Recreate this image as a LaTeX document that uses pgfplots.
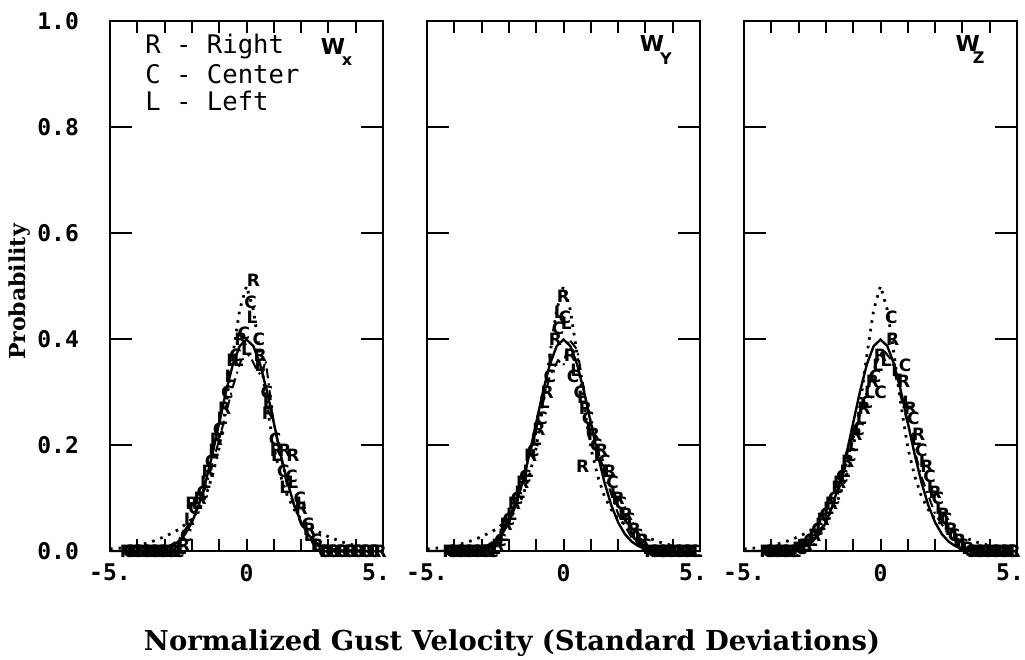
\documentclass[border=0pt]{standalone}
\usepackage{pgfplots}
\pgfplotsset{compat=1.18}
\usepackage{fontspec}
\setmainfont{DejaVu Serif}
\newfontfamily\monof{DejaVu Sans Mono}
\newfontfamily\sansf{DejaVu Sans}
\begin{document}
\begin{tikzpicture}
\useasboundingbox (-55pt,-54.5pt) rectangle (457.5pt,275.5pt);
\pgfplotsset{
  panel/.style={
    scale only axis, width=136.5pt, height=265pt,
    xmin=-5, xmax=5, ymin=0, ymax=1,
    axis line style={line width=1.4pt},
    tick align=inside,
    xtick={-5,...,5},
    xticklabels={-5.,{},{},{},{},0,{},{},{},{},{\hspace*{-7pt}5.}},
    ytick={0,0.2,0.4,0.6,0.8,1.0},
    xtick style={line width=1pt, black, /pgfplots/major tick length=6pt},
    ytick style={line width=1pt, black, /pgfplots/major tick length=11pt},
    extra x ticks={0}, extra x tick labels={},
    extra x tick style={major tick length=10pt},
    ticklabel style={font=\monof\bfseries\fontsize{11.5}{12}\selectfont},
    xticklabel style={yshift=-3pt},
    yticklabel style={xshift=-12pt},
    clip=false,
  },
  solidc/.style={black, line width=1.2pt},
  dotc/.style={black, line width=1.4pt, dash pattern=on 1.3pt off 3pt},
  ddc/.style={black, line width=1pt, dash pattern=on 5pt off 2.5pt on 1pt off 2.5pt},
  mk/.style={only marks, mark=text, text mark={#1}, text mark as node=true,
    text mark style={font=\sansf\bfseries\fontsize{8.5}{8.5}\selectfont, inner sep=0pt}},
}
% ---------- shared curves ----------
\def\gausscurve{(-5,0)(-4.5,0)(-4,0.0001)(-3.75,0.0004)(-3.5,0.0009)(-3.25,0.002)(-3,0.0044)(-2.75,0.0091)(-2.5,0.0175)(-2.25,0.0317)(-2,0.054)(-1.75,0.0863)(-1.5,0.1295)(-1.25,0.1826)(-1,0.242)(-0.75,0.3011)(-0.5,0.3521)(-0.25,0.3867)(0,0.3989)(0.25,0.3867)(0.5,0.3521)(0.75,0.3011)(1,0.242)(1.25,0.1826)(1.5,0.1295)(1.75,0.0863)(2,0.054)(2.25,0.0317)(2.5,0.0175)(2.75,0.0091)(3,0.0044)(3.25,0.002)(3.5,0.0009)(3.75,0.0004)(4,0.0001)(4.5,0)(5,0)}
\def\dotcurve{(-5,0.004)(-4.5,0.006)(-4,0.01)(-3.5,0.017)(-3,0.027)(-2.5,0.04)(-2,0.06)(-1.75,0.078)(-1.5,0.103)(-1.25,0.142)(-1,0.195)(-0.75,0.275)(-0.5,0.37)(-0.25,0.455)(0,0.5)(0.25,0.455)(0.5,0.37)(0.75,0.275)(1,0.195)(1.25,0.142)(1.5,0.103)(1.75,0.078)(2,0.06)(2.5,0.04)(3,0.027)(3.5,0.017)(4,0.01)(4.5,0.006)(5,0.004)}
% ---------- panel 1 : W_x ----------
\begin{axis}[panel, at={(0pt,0pt)}, anchor=south west,
  yticklabels={0.0,0.2,0.4,0.6,0.8,1.0}]
\addplot[solidc] coordinates {\gausscurve};
\addplot[dotc] coordinates {\dotcurve};
\addplot[ddc] coordinates {(-4.5,0)(-3,0.004)(-2.5,0.02)(-2,0.06)(-1.5,0.12)(-1,0.21)(-0.5,0.31)(-0.2,0.36)(0.1,0.37)(0.4,0.34)(0.55,0.33)(0.7,0.36)(1.0,0.24)(1.5,0.12)(2,0.05)(2.5,0.015)(3,0.004)(4.5,0)};
\addplot[mk=R] coordinates {(-4.4,0)(-4.1,0)(-3.8,0)(-3.5,0)(-3.2,0)(-2.9,0)(-2.6,0)(-2.3,0.01)(-2.0,0.09)(-1.7,0.10)(-1.4,0.15)(-1.1,0.21)(-0.8,0.27)(-0.5,0.36)(-0.2,0.40)(0.25,0.51)(0.5,0.37)(0.8,0.26)(1.1,0.19)(1.4,0.19)(1.7,0.18)(2.0,0.08)(2.3,0.04)(2.6,0.01)(2.9,0)(3.2,0)(3.5,0)(3.8,0)(4.1,0)(4.4,0)(4.7,0)(4.9,0)};
\addplot[mk=C] coordinates {(-4.3,0)(-4.0,0)(-3.7,0)(-3.4,0)(-3.1,0)(-2.8,0)(-2.5,0)(-2.2,0.03)(-1.9,0.08)(-1.6,0.11)(-1.3,0.17)(-1.0,0.23)(-0.7,0.30)(-0.4,0.37)(-0.1,0.41)(0.15,0.47)(0.45,0.40)(0.75,0.30)(1.05,0.21)(1.35,0.15)(1.65,0.14)(1.95,0.10)(2.25,0.05)(2.55,0.02)(2.85,0)(3.15,0)(3.45,0)(3.75,0)(4.05,0)(4.35,0)(4.65,0)};
\addplot[mk=L] coordinates {(-4.2,0)(-3.9,0)(-3.6,0)(-3.3,0)(-3.0,0)(-2.7,0)(-2.4,0.005)(-2.1,0.06)(-1.8,0.09)(-1.5,0.13)(-1.2,0.19)(-0.9,0.25)(-0.6,0.33)(-0.3,0.36)(0.0,0.38)(0.2,0.44)(0.5,0.35)(0.8,0.28)(1.1,0.18)(1.4,0.12)(1.7,0.13)(2.0,0.09)(2.3,0.03)(2.6,0.01)(2.9,0)(3.2,0)(3.5,0)(3.8,0)(4.1,0)(4.4,0)(4.7,0)};
\node[anchor=west, font=\monof\fontsize{12.8}{13}\selectfont, inner sep=0pt] at (axis cs:-3.72,0.951) {R - Right};
\node[anchor=west, font=\monof\fontsize{12.8}{13}\selectfont, inner sep=0pt] at (axis cs:-3.72,0.899) {C - Center};
\node[anchor=west, font=\monof\fontsize{12.8}{13}\selectfont, inner sep=0pt] at (axis cs:-3.72,0.849) {L - Left};
\node[font=\sansf\bfseries\fontsize{11}{11}\selectfont, inner sep=0pt] at (axis cs:3.17,0.951) {W};
\node[font=\sansf\bfseries\fontsize{8}{8}\selectfont, inner sep=0pt] at (axis cs:3.68,0.924) {x};
\end{axis}
% ---------- panel 2 : W_y ----------
\begin{axis}[panel, at={(158.5pt,0pt)}, anchor=south west, yticklabels={}]
\addplot[solidc] coordinates {\gausscurve};
\addplot[dotc] coordinates {\dotcurve};
\addplot[ddc] coordinates {(-4.5,0)(-3,0.004)(-2.5,0.02)(-2,0.06)(-1.5,0.13)(-1,0.23)(-0.5,0.33)(-0.2,0.36)(0.0,0.35)(0.2,0.40)(0.5,0.38)(0.8,0.29)(1.2,0.2)(1.6,0.13)(2,0.07)(2.5,0.025)(3,0.006)(4.5,0)};
\addplot[mk=R] coordinates {(-4.2,0)(-3.9,0)(-3.6,0)(-3.3,0)(-3.0,0)(-2.7,0)(-2.4,0.01)(-2.1,0.05)(-1.8,0.09)(-1.5,0.13)(-1.2,0.18)(-0.9,0.23)(-0.6,0.30)(-0.3,0.40)(0.0,0.48)(0.25,0.37)(0.7,0.16)(0.8,0.27)(1.1,0.22)(1.4,0.19)(1.7,0.15)(2.0,0.10)(2.3,0.07)(2.6,0.04)(2.9,0.02)(3.2,0)(3.5,0)(3.8,0)(4.1,0)(4.4,0)(4.7,0)};
\addplot[mk=C] coordinates {(-4.1,0)(-3.8,0)(-3.5,0)(-3.2,0)(-2.9,0)(-2.6,0)(-2.3,0.02)(-2.0,0.06)(-1.7,0.10)(-1.4,0.14)(-1.1,0.19)(-0.8,0.25)(-0.5,0.33)(-0.2,0.42)(0.05,0.44)(0.35,0.33)(0.6,0.30)(0.9,0.25)(1.2,0.20)(1.5,0.17)(1.8,0.13)(2.1,0.09)(2.4,0.06)(2.7,0.03)(3.0,0.01)(3.3,0)(3.6,0)(3.9,0)(4.2,0)(4.5,0)(4.8,0)};
\addplot[mk=L] coordinates {(-4.0,0)(-3.7,0)(-3.4,0)(-3.1,0)(-2.8,0)(-2.5,0.005)(-2.2,0.03)(-1.9,0.07)(-1.6,0.11)(-1.3,0.15)(-1.0,0.21)(-0.7,0.28)(-0.4,0.36)(-0.15,0.45)(0.1,0.43)(0.45,0.34)(0.7,0.29)(1.0,0.23)(1.3,0.18)(1.6,0.15)(1.9,0.11)(2.2,0.07)(2.5,0.05)(2.8,0.02)(3.1,0.005)(3.4,0)(3.7,0)(4.0,0)(4.3,0)(4.6,0)(4.9,0)};
\node[font=\sansf\bfseries\fontsize{11}{11}\selectfont, inner sep=0pt] at (axis cs:3.24,0.957) {W};
\node[font=\sansf\bfseries\fontsize{8}{8}\selectfont, inner sep=0pt] at (axis cs:3.75,0.928) {Y};
\end{axis}
% ---------- panel 3 : W_z ----------
\begin{axis}[panel, at={(317pt,0pt)}, anchor=south west, yticklabels={}]
\addplot[solidc] coordinates {\gausscurve};
\addplot[dotc] coordinates {\dotcurve};
\addplot[ddc] coordinates {(-4.5,0)(-3,0.004)(-2.5,0.02)(-2,0.055)(-1.5,0.12)(-1,0.21)(-0.5,0.30)(-0.2,0.35)(0.1,0.38)(0.4,0.36)(0.7,0.30)(1.0,0.24)(1.5,0.14)(2,0.07)(2.5,0.03)(3,0.008)(4.5,0)};
\addplot[mk=R] coordinates {(-4.2,0)(-3.9,0)(-3.6,0)(-3.3,0)(-3.0,0.005)(-2.7,0.01)(-2.4,0.03)(-2.1,0.06)(-1.8,0.09)(-1.5,0.13)(-1.2,0.17)(-0.9,0.22)(-0.6,0.27)(-0.3,0.32)(0.0,0.37)(0.45,0.40)(0.85,0.32)(1.1,0.27)(1.4,0.22)(1.7,0.16)(2.0,0.11)(2.3,0.07)(2.6,0.04)(2.9,0.02)(3.2,0.005)(3.5,0)(3.8,0)(4.1,0)(4.4,0)(4.7,0)(4.9,0)};
\addplot[mk=C] coordinates {(-4.1,0)(-3.8,0)(-3.5,0)(-3.2,0)(-2.9,0.005)(-2.6,0.02)(-2.3,0.04)(-2.0,0.07)(-1.7,0.10)(-1.4,0.14)(-1.1,0.18)(-0.8,0.23)(-0.5,0.28)(-0.2,0.33)(0.0,0.30)(0.4,0.44)(0.9,0.35)(1.2,0.25)(1.5,0.19)(1.8,0.14)(2.1,0.10)(2.4,0.06)(2.7,0.03)(3.0,0.01)(3.3,0)(3.6,0)(3.9,0)(4.2,0)(4.5,0)(4.8,0)};
\addplot[mk=L] coordinates {(-4.0,0)(-3.7,0)(-3.4,0)(-3.1,0)(-2.8,0.01)(-2.5,0.02)(-2.2,0.05)(-1.9,0.08)(-1.6,0.12)(-1.3,0.15)(-1.0,0.20)(-0.7,0.25)(-0.4,0.30)(-0.1,0.35)(0.2,0.36)(0.6,0.34)(1.0,0.28)(1.3,0.21)(1.6,0.17)(1.9,0.12)(2.2,0.08)(2.5,0.05)(2.8,0.03)(3.1,0.01)(3.4,0)(3.7,0)(4.0,0)(4.3,0)(4.6,0)(4.9,0)};
\node[font=\sansf\bfseries\fontsize{11}{11}\selectfont, inner sep=0pt] at (axis cs:3.2,0.957) {W};
\node[font=\sansf\bfseries\fontsize{8}{8}\selectfont, inner sep=0pt] at (axis cs:3.6,0.93) {Z};
\end{axis}
\node[rotate=90, font=\bfseries\fontsize{11}{11}\selectfont] at (-45pt,129.5pt) {Probability};
\node[font=\bfseries\fontsize{13.7}{14}\selectfont] at (201pt,-46pt) {Normalized Gust Velocity (Standard Deviations)};
\end{tikzpicture}
\end{document}
